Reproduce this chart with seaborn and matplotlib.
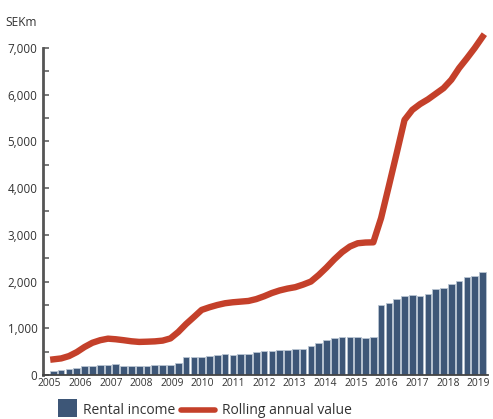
import numpy as np
import pandas as pd
import matplotlib
matplotlib.use("Agg")
import matplotlib.pyplot as plt
from matplotlib.patches import Rectangle
from matplotlib.lines import Line2D
import seaborn as sns

# ---- data (SEKm, quarterly) ----
rental_income = [93, 107, 121, 157, 200, 200, 214, 214, 229, 193, 193, 200,
                 200, 207, 207, 214, 257, 393, 393, 393, 414, 429, 450, 436,
                 443, 450, 493, 514, 514, 536, 536, 550, 557, 621, 679, 750,
                 786, 814, 814, 814, 793, 814, 1493, 1536, 1629, 1686, 1714, 1693,
                 1736, 1843, 1864, 1943, 2014, 2107, 2121, 2207]
rolling_annual = [335, 355, 405, 490, 600, 690, 745, 778, 765, 745, 722, 708,
                  713, 720, 736, 783, 920, 1090, 1240, 1393, 1450, 1498, 1536, 1557,
                  1571, 1585, 1625, 1685, 1755, 1810, 1850, 1880, 1935, 2000, 2140, 2300,
                  2475, 2630, 2750, 2820, 2836, 2840, 3360, 4050, 4750, 5460, 5675, 5800,
                  5900, 6020, 6140, 6320, 6570, 6780, 7000, 7240]
year_labels = ["2005", "2006", "2007", "2008", "2009", "2010", "2011", "2012",
               "2013", "2014", "2015", "2016", "2017", "2018", "2019"]
y_ticks = [0, 1000, 2000, 3000, 4000, 5000, 6000, 7000]
y_tick_labels = ["0", "1,000", "2,000", "3,000", "4,000", "5,000", "6,000", "7,000"]

BAR = "#3d5677"
RED = "#c4402a"
TXT = "#333333"
AX = "#555555"

sns.set_theme(style="white")
plt.rcParams["font.family"] = ["Open Sans", "DejaVu Sans"]

W, H = 493, 419
fig = plt.figure(figsize=(W / 100, H / 100), dpi=100)
ax = fig.add_axes([43 / W, 44 / H, 445 / W, 327 / H])

n = len(rental_income)
df = pd.DataFrame({"q": np.arange(n), "rental": rental_income, "rolling": rolling_annual})

sns.barplot(data=df, x="q", y="rental", color=BAR, saturation=1, width=0.85,
            edgecolor="#b9c5d2", linewidth=0.6, ax=ax, zorder=2)
sns.lineplot(data=df, x="q", y="rolling", color=RED, linewidth=4.6, ax=ax,
             solid_capstyle="projecting", solid_joinstyle="round", zorder=3)
for ln in ax.lines:
    ln.set_clip_on(False)

ax.set_xlim(-1.33, n - 0.3)
ax.set_ylim(0, 7000)
ax.set_xlabel("")
ax.set_ylabel("")

# x labels
ax.set_xticks(np.linspace(-0.5, n - 1.5, len(year_labels)))
ax.set_xticklabels(year_labels, fontsize=7.4, color=TXT)
ax.tick_params(axis="x", length=0, pad=2)

# y ticks
ax.set_yticks(y_ticks)
ax.set_yticklabels(y_tick_labels, fontsize=8.4, color=TXT)
ax.set_yticks(np.arange(500, 7000, 1000), minor=True)
ax.tick_params(axis="y", which="both", direction="in", length=4.5, width=1.1,
               color=AX, pad=4, left=True)

for s in ["top", "right"]:
    ax.spines[s].set_visible(False)
ax.spines["left"].set_color(AX)
ax.spines["left"].set_linewidth(2.0)
ax.spines["bottom"].set_color("#444444")
ax.spines["bottom"].set_linewidth(1.3)
ax.grid(False)

fig.text(5 / W, 1 - 22 / H, "SEKm", fontsize=8.6, color=TXT, va="center", ha="left")

# legend (manual)
fig.patches.append(Rectangle((58 / W, 1 - 417 / H), 19 / W, 18 / H,
                             transform=fig.transFigure, facecolor=BAR, edgecolor="none"))
fig.text(83 / W, 1 - 410 / H, "Rental income", fontsize=10, color=TXT, va="center", ha="left")
fig.lines.append(Line2D([181 / W, 215 / W], [1 - 410 / H, 1 - 410 / H],
                        transform=fig.transFigure, color=RED, linewidth=4.0))
fig.text(222 / W, 1 - 410 / H, "Rolling annual value", fontsize=10, color=TXT,
         va="center", ha="left")

fig.savefig("out.png", dpi=100)
